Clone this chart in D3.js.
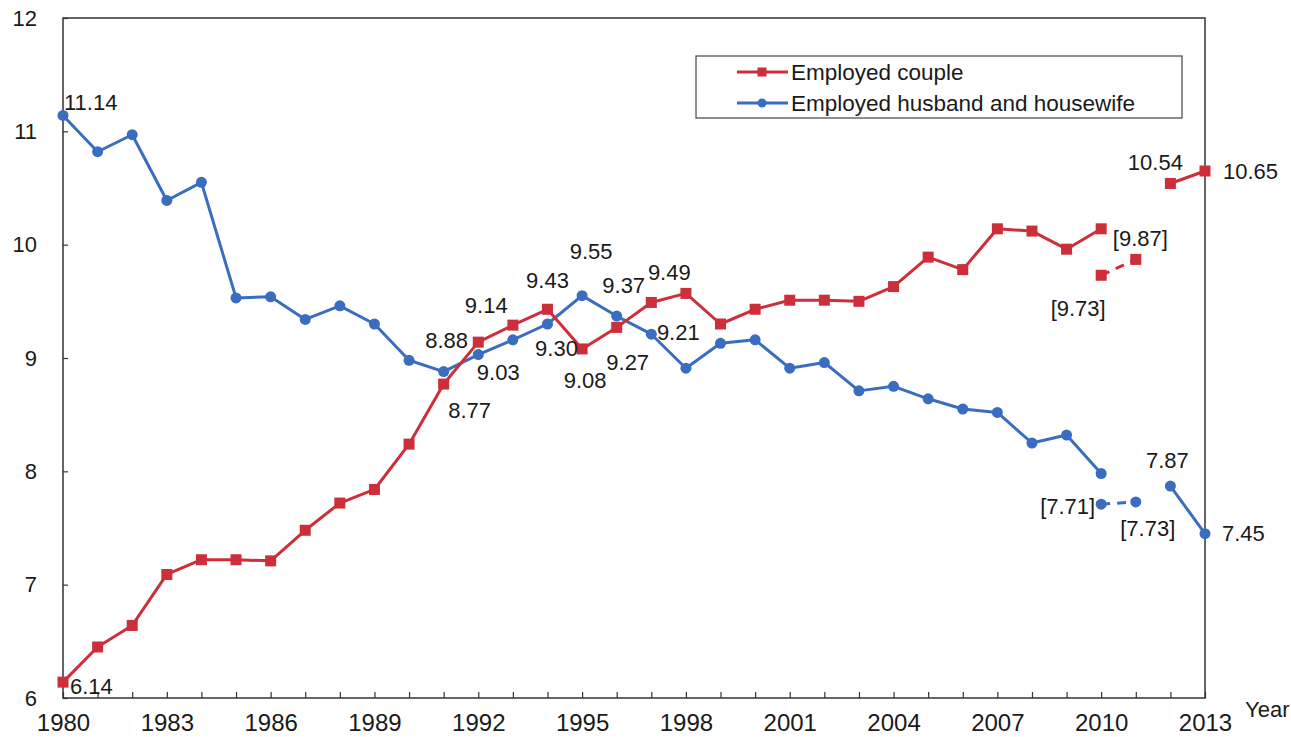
<!DOCTYPE html>
<html><head><meta charset="utf-8">
<script src="https://cdn.jsdelivr.net/npm/d3@7"></script>
<style>
html,body{margin:0;padding:0;background:#fff;}
svg{display:block;font-family:Arial,"Liberation Sans",sans-serif;}
</style></head>
<body><svg id="chart" width="1291" height="737"></svg>
<script>
const years = [1980,1981,1982,1983,1984,1985,1986,1987,1988,1989,1990,1991,1992,1993,1994,1995,1996,1997,1998,1999,2000,2001,2002,2003,2004,2005,2006,2007,2008,2009,2010,2011,2012,2013];
const coupleValues = [6.14,6.45,6.64,7.09,7.22,7.22,7.21,7.48,7.72,7.84,8.24,8.77,9.14,9.29,9.43,9.08,9.27,9.49,9.57,9.30,9.43,9.51,9.51,9.50,9.63,9.89,9.78,10.14,10.12,9.96,10.14,null,10.54,10.65];
const housewifeValues = [11.14,10.82,10.97,10.39,10.55,9.53,9.54,9.34,9.46,9.30,8.98,8.88,9.03,9.16,9.30,9.55,9.37,9.21,8.91,9.13,9.16,8.91,8.96,8.71,8.75,8.64,8.55,8.52,8.25,8.32,7.98,null,7.87,7.45];
const revisedYears = [2010,2011];
const coupleRevised = [9.73,9.87];
const housewifeRevised = [7.71,7.73];
const yTicks = [6,7,8,9,10,11,12];
const xTickLabels = [1980,1983,1986,1989,1992,1995,1998,2001,2004,2007,2010,2013];
const seriesNames = ["Employed couple","Employed husband and housewife"];
// labelled points: [series, year, text, dx, dy, anchor]
const labels = [
  ["h",1980,"11.14",1,-13,"start"],
  ["c",1980,"6.14",7,4,"start"],
  ["h",1991,"8.88",3,-31,"middle"],
  ["c",1991,"8.77",26,26,"middle"],
  ["c",1992,"9.14",8,-37,"middle"],
  ["h",1992,"9.03",20,18,"middle"],
  ["c",1994,"9.43",0,-29,"middle"],
  ["h",1994,"9.30",9,24,"middle"],
  ["h",1995,"9.55",9,-44,"middle"],
  ["c",1995,"9.08",3,31,"middle"],
  ["h",1996,"9.37",7,-31,"middle"],
  ["c",1996,"9.27",11,35,"middle"],
  ["c",1997,"9.49",18,-30,"middle"],
  ["h",1997,"9.21",27,-2,"middle"],
  ["c",2012,"10.54",-15,-21,"middle"],
  ["c",2013,"10.65",18,0,"start"],
  ["cr",2011,"[9.87]",-23,-21,"start"],
  ["cr",2010,"[9.73]",-23,33,"middle"],
  ["h",2012,"7.87",-3,-26,"middle"],
  ["h",2013,"7.45",17,0,"start"],
  ["hr",2010,"[7.71]",-6,2,"end"],
  ["hr",2011,"[7.73]",12,26,"middle"]
];

const red = "#cd2f3a", blue = "#3a6dc0", ink = "#1a1a1a";
const svg = d3.select("#chart");
const pLeft = 63, pRight = 1205, pTop = 18, pBottom = 698;
const x = d3.scaleLinear().domain([1980,2013]).range([pLeft,pRight]);
const y = d3.scaleLinear().domain([6,12]).range([pBottom,pTop]);

// frame
svg.append("rect").attr("x",pLeft).attr("y",pTop).attr("width",pRight-pLeft).attr("height",pBottom-pTop)
  .attr("fill","none").attr("stroke","#333").attr("stroke-width",1.5);

// y axis ticks inside
const yAxis = d3.axisLeft(y).tickValues(yTicks).tickSize(-5).tickPadding(26).tickFormat(d3.format("d"));
const gy = svg.append("g").attr("transform",`translate(${pLeft},0)`).call(yAxis);
gy.select(".domain").remove();
gy.selectAll("line").attr("stroke","#333").attr("stroke-width",1.2);
gy.selectAll("text").attr("font-size",22).attr("fill",ink);

// x axis ticks inside, every year, labels every 3
const xAxis = d3.axisBottom(x).tickValues(years).tickSize(-6).tickPadding(16)
  .tickFormat(d => xTickLabels.includes(d) ? String(d) : "");
const gx = svg.append("g").attr("transform",`translate(0,${pBottom})`).call(xAxis);
gx.select(".domain").remove();
gx.selectAll("line").attr("stroke","#333").attr("stroke-width",1.2);
gx.selectAll("text").attr("font-size",24).attr("fill",ink);

svg.append("text").attr("x",1245).attr("y",717).attr("font-size",22).attr("fill",ink).text("Year");

const data = (vals) => years.map((yr,i)=>({year:yr,v:vals[i]}));
const cData = data(coupleValues), hData = data(housewifeValues);
const crData = revisedYears.map((yr,i)=>({year:yr,v:coupleRevised[i]}));
const hrData = revisedYears.map((yr,i)=>({year:yr,v:housewifeRevised[i]}));

const line = d3.line().defined(d=>d.v!=null).x(d=>x(d.year)).y(d=>y(d.v));

function drawSeries(d, color, shape, dashed){
  svg.append("path").datum(d).attr("d",line).attr("fill","none").attr("stroke",color)
    .attr("stroke-width",3).attr("stroke-linejoin","round")
    .attr("stroke-dasharray",dashed?"9,7":null);
  const pts = d.filter(p=>p.v!=null);
  if(shape==="square"){
    svg.append("g").selectAll("rect").data(pts).join("rect")
      .attr("x",p=>x(p.year)-5.5).attr("y",p=>y(p.v)-5.5).attr("width",11).attr("height",11).attr("fill",color);
  } else {
    svg.append("g").selectAll("circle").data(pts).join("circle")
      .attr("cx",p=>x(p.year)).attr("cy",p=>y(p.v)).attr("r",5.5).attr("fill",color);
  }
}
drawSeries(hData, blue, "circle", false);
drawSeries(hrData, blue, "circle", true);
drawSeries(cData, red, "square", false);
drawSeries(crData, red, "square", true);

// labels
const lookup = {c:cData, h:hData, cr:crData, hr:hrData};
svg.append("g").selectAll("text").data(labels).join("text")
  .attr("x",l=>x(l[1])+l[3])
  .attr("y",l=>y(lookup[l[0]].find(p=>p.year===l[1]).v)+l[4])
  .attr("dy","0.35em")
  .attr("text-anchor",l=>l[5])
  .attr("font-size",22).attr("fill",ink).text(l=>l[2]);

// legend
const lg = svg.append("g");
lg.append("rect").attr("x",696).attr("y",56).attr("width",486).attr("height",62)
  .attr("fill","#fff").attr("stroke","#444").attr("stroke-width",1.2);
[[red,"square",72],[blue,"circle",103]].forEach((s,i)=>{
  lg.append("line").attr("x1",737).attr("x2",788).attr("y1",s[2]).attr("y2",s[2]).attr("stroke",s[0]).attr("stroke-width",3);
  if(s[1]==="square") lg.append("rect").attr("x",762-4.5).attr("y",s[2]-4.5).attr("width",9).attr("height",9).attr("fill",s[0]);
  else lg.append("circle").attr("cx",762).attr("cy",s[2]).attr("r",4.5).attr("fill",s[0]);
  lg.append("text").attr("x",791).attr("y",s[2]).attr("dy","0.35em").attr("font-size",22.5).attr("fill",ink).text(seriesNames[i]);
});
</script></body></html>
